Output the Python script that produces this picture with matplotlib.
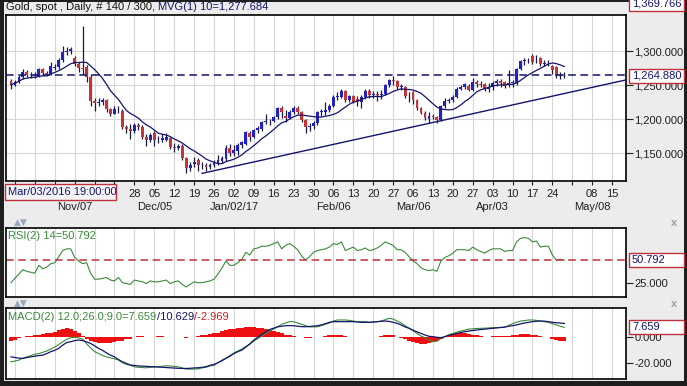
import numpy as np
import pandas as pd
import matplotlib
matplotlib.use("Agg")
import matplotlib.pyplot as plt
from matplotlib.patches import Rectangle
from matplotlib.transforms import blended_transform_factory

plt.rcParams['font.family'] = ['Liberation Sans', 'DejaVu Sans']

# daily bars, Oct 14 2016 .. Apr 27 2017 (140 bars)
dates = pd.bdate_range('2016-10-14', periods=140)

opens = [1257, 1251, 1255, 1262, 1270, 1265, 1266, 1264, 1274, 1268,
         1267, 1276, 1277, 1288, 1299, 1301, 1291, 1281, 1276, 1277,
         1262, 1227, 1224, 1226, 1228, 1215, 1208, 1214, 1212, 1188,
         1185, 1183, 1191, 1189, 1173, 1170, 1180, 1169, 1169, 1170,
         1172, 1159, 1158, 1160, 1142, 1128, 1134, 1140, 1132, 1132,
         1129, 1133, 1134, 1138, 1141, 1158, 1150, 1153, 1162, 1164,
         1180, 1174, 1184, 1186, 1196, 1197, 1198, 1203, 1216, 1204,
         1202, 1210, 1216, 1210, 1199, 1188, 1190, 1195, 1210, 1210,
         1214, 1220, 1233, 1233, 1241, 1228, 1234, 1230, 1225, 1233,
         1241, 1236, 1237, 1236, 1237, 1250, 1258, 1256, 1248, 1248,
         1234, 1240, 1228, 1216, 1209, 1200, 1205, 1203, 1199, 1220,
         1227, 1229, 1233, 1245, 1248, 1249, 1243, 1255, 1252, 1252,
         1244, 1247, 1253, 1256, 1255, 1250, 1254, 1254, 1274, 1286,
         1287, 1294, 1291, 1290, 1282, 1284, 1279, 1277, 1264, 1266]
highs = [1260, 1258, 1265, 1274, 1272, 1270, 1269, 1276, 1276, 1271,
         1285, 1281, 1291, 1308, 1307, 1307, 1294, 1285, 1338, 1280,
         1267, 1232, 1231, 1232, 1230, 1216, 1220, 1219, 1215, 1192,
         1193, 1195, 1194, 1191, 1178, 1180, 1182, 1175, 1178, 1180,
         1173, 1165, 1164, 1163, 1144, 1137, 1144, 1142, 1137, 1135,
         1136, 1139, 1147, 1145, 1162, 1163, 1162, 1165, 1168, 1183,
         1182, 1186, 1190, 1198, 1207, 1200, 1205, 1218, 1219, 1214,
         1213, 1220, 1220, 1212, 1200, 1194, 1198, 1212, 1215, 1226,
         1222, 1236, 1240, 1244, 1243, 1236, 1236, 1234, 1236, 1245,
         1244, 1241, 1241, 1243, 1252, 1260, 1264, 1258, 1252, 1249,
         1240, 1242, 1230, 1218, 1212, 1210, 1208, 1205, 1221, 1232,
         1232, 1236, 1248, 1251, 1254, 1252, 1261, 1258, 1256, 1254,
         1254, 1256, 1259, 1260, 1257, 1273, 1258, 1276, 1288, 1290,
         1291, 1296, 1295, 1292, 1287, 1288, 1280, 1279, 1269, 1269]
lows = [1245, 1249, 1253, 1260, 1262, 1261, 1261, 1262, 1266, 1264,
        1265, 1272, 1274, 1285, 1295, 1296, 1278, 1270, 1266, 1255,
        1220, 1212, 1220, 1221, 1211, 1205, 1207, 1209, 1185, 1180,
        1171, 1180, 1184, 1171, 1161, 1166, 1160, 1165, 1166, 1168,
        1156, 1152, 1155, 1140, 1121, 1124, 1130, 1124, 1127, 1124,
        1127, 1130, 1132, 1135, 1138, 1145, 1146, 1147, 1158, 1162,
        1168, 1172, 1180, 1182, 1193, 1191, 1196, 1201, 1202, 1196,
        1200, 1208, 1208, 1196, 1180, 1182, 1186, 1192, 1205, 1206,
        1210, 1218, 1229, 1231, 1225, 1225, 1224, 1220, 1216, 1230,
        1232, 1232, 1227, 1230, 1235, 1248, 1250, 1244, 1243, 1232,
        1225, 1222, 1213, 1207, 1199, 1195, 1200, 1195, 1197, 1217,
        1224, 1226, 1231, 1243, 1244, 1241, 1242, 1248, 1247, 1241,
        1240, 1243, 1249, 1247, 1246, 1247, 1248, 1251, 1272, 1280,
        1283, 1281, 1283, 1278, 1278, 1279, 1267, 1261, 1260, 1261]
closes = [1251, 1255, 1262, 1270, 1265, 1266, 1264, 1274, 1268, 1267,
          1278, 1277, 1288, 1299, 1301, 1303, 1281, 1275, 1274, 1262,
          1227, 1224, 1226, 1228, 1215, 1208, 1215, 1213, 1188, 1185,
          1183, 1192, 1189, 1173, 1170, 1176, 1169, 1169, 1172, 1174,
          1159, 1158, 1160, 1142, 1128, 1133, 1137, 1132, 1132, 1130,
          1133, 1136, 1140, 1142, 1158, 1150, 1155, 1162, 1166, 1181,
          1173, 1184, 1187, 1196, 1197, 1198, 1203, 1216, 1211, 1202,
          1210, 1216, 1210, 1199, 1188, 1190, 1195, 1210, 1212, 1214,
          1220, 1233, 1234, 1241, 1228, 1234, 1226, 1225, 1233, 1241,
          1236, 1237, 1236, 1237, 1250, 1258, 1256, 1248, 1249, 1234,
          1234, 1228, 1216, 1209, 1202, 1205, 1203, 1199, 1220, 1227,
          1229, 1233, 1245, 1248, 1252, 1243, 1255, 1252, 1250, 1244,
          1248, 1253, 1256, 1254, 1249, 1254, 1255, 1274, 1286, 1287,
          1288, 1285, 1290, 1282, 1283, 1284, 1272, 1264, 1266, 1264.88]

rsi = [25, 30, 35, 40, 38, 37, 36, 45, 41, 43,
       47, 48, 55, 62, 64, 64, 54, 50, 47, 48,
       36, 29, 29, 30, 31, 28, 27, 31, 25, 24,
       23, 28, 27, 26, 24, 27, 26, 26, 27, 28,
       24, 26, 27, 23, 20, 23, 26, 25, 25, 26,
       27, 29, 35, 42, 50, 45, 45, 48, 52, 60,
       57, 64, 65, 67, 67, 68, 70, 72, 64, 68,
       70, 67, 63, 56, 51, 55, 60, 62, 63, 64,
       66, 70, 69, 72, 62, 64, 66, 62, 63, 65,
       62, 63, 65, 68, 72, 70, 68, 63, 63, 60,
       55, 50, 47, 42, 40, 39, 40, 38, 50, 54,
       56, 59, 63, 63, 63, 62, 66, 63, 61, 59,
       62, 64, 64, 64, 61, 62, 62, 72, 76, 77,
       76, 72, 73, 66, 67, 67, 57, 51, 52, 50.792]

macd = [-18.8, -18.2, -17.5, -16, -15, -14, -13, -12.5, -11.5, -10.5,
        -9, -7.5, -5.5, -3.5, -1.5, -0.3, 0, -0.5, -1.3, -5,
        -8, -11, -12.4, -14, -15, -15.8, -16.5, -17.5, -19.5, -20.8,
        -21.5, -22.6, -23, -23.2, -23.4, -23, -22.8, -22.6, -22.2, -21.9,
        -22, -22.3, -22.6, -23.5, -24.4, -24.4, -24.4, -24.2, -23.5, -23,
        -22, -21.5, -19.5, -17.5, -16, -14, -12, -10.5, -9, -7,
        -5.4, -3, -1, 1, 3, 4.5, 6.5, 8, 10, 11,
        12, 12, 11, 10, 9, 8, 8, 8.1, 9, 10,
        11, 12.5, 13.3, 13.3, 13.3, 13, 12.5, 12, 12, 12,
        11.5, 11.5, 12, 12.5, 13.5, 14.6, 14, 12.5, 11, 9,
        7, 5, 3, 1, -0.3, -2, -3.4, -3, -1, 0.5,
        2, 3, 4, 4.8, 5.5, 6.3, 6.5, 6.8, 6.9, 7,
        7.2, 7.4, 7.5, 7.6, 7.8, 9, 10.5, 11.5, 12.5, 12.8,
        13.3, 13.3, 13, 12.5, 12, 11.5, 10.5, 9.5, 8.5, 7.659]
signal = [-15, -15.5, -16, -16.2, -15.5, -15, -14.5, -14, -13.7, -12.5,
          -11, -10, -8.5, -6, -4, -3.4, -2.5, -2.1, -2.5, -3.5,
          -4.7, -6.5, -8.5, -10, -12, -13.7, -15, -17, -18.8, -20,
          -21.3, -21.6, -22, -22.1, -22.3, -22.5, -22.6, -22.8, -23, -23.2,
          -23.4, -23.6, -23.8, -23.9, -23.9, -23.8, -23.5, -23.4, -23, -22.5,
          -21.5, -20.8, -19.5, -18, -16.2, -14.5, -12.5, -11, -9.8, -7.5,
          -5, -2.1, 0, 2, 4.3, 6, 7, 8.1, 8.5, 8.9,
          9, 8.9, 8.5, 8.2, 8.1, 8.3, 8.6, 8.9, 9.5, 10.5,
          11.5, 12, 12, 12, 12, 12, 12, 11.8, 11.5, 11.5,
          11.5, 11.8, 12, 12.3, 12.5, 12.2, 11.5, 10.7, 9.5, 8,
          6.9, 5.5, 4.2, 3, 1.8, 0.8, 0.5, 0, -0.3, 0.5,
          1.5, 2.2, 3, 3.7, 4.3, 4.8, 5.2, 5.6, 6, 6.3,
          6.6, 6.9, 7.2, 7.5, 7.8, 8.5, 8.9, 9.5, 10.3, 11,
          11.5, 12, 12.3, 12.5, 12.4, 12, 11.5, 11.2, 10.9, 10.629]
hist = [-2.5, -2, -0.5, 0.5, 1, 1, 1.5, 2, 2.5, 3,
        3, 4, 5.5, 6.5, 7, 6.5, 5, 3, 1, -1,
        -2.5, -3.5, -4, -4.5, -4.5, -4, -3.5, -3, -2.5, -1.5,
        -1, 0.5, 1, 1, 0.5, 0.5, 0.5, 1, 1, 0.5,
        0, 0.5, 0.5, 0, -0.5, 0, 0.5, 1, 1.5, 2,
        2.5, 3, 3.5, 4.5, 5.5, 6, 6.5, 7, 7.5, 8,
        8, 8, 7.5, 7, 6.5, 5.5, 5, 4, 3, 2,
        1.5, 1, 0.5, 0, -0.5, -0.5, 0, 0.5, 0.5, 1,
        1.5, 2, 2, 1.5, 1, 0.5, 0.5, 0, 0, 0.5,
        0.5, 0.5, 0.5, 1, 1.5, 2, 1.5, 0.5, -0.5, -1.5,
        -2.5, -3.5, -4.5, -5, -5, -4.5, -3.5, -2.5, -1, 0.5,
        1.5, 2.5, 3, 3, 3, 2.5, 2, 1.5, 1, 0.5,
        0.5, 1, 1, 1, 1, 1, 1.5, 2, 2.5, 2.5,
        2.5, 2, 1.5, 1, 0.5, 0, -1, -2, -2.5, -2.969]

last_price = 1264.88
trend_start = (48, 1120)      # (bar, price)
trend_end = (154.5, 1258)
rsi_last = 50.792

month_labels = {'2016-11-07': 'Nov/07', '2016-12-05': 'Dec/05', '2017-01-02': 'Jan/02/17',
                '2017-02-06': 'Feb/06', '2017-03-06': 'Mar/06', '2017-04-03': 'Apr/03',
                '2017-05-08': 'May/08'}

# ---------------------------------------------------------------------------
W, H = 687, 386
BLUE, RED, NAVY, GREEN = '#2222c0', '#c83434', '#14146e', '#3a8a3a'
BOXRED = '#c0303a'

all_days = pd.bdate_range('2016-10-14', periods=160)
pos = {d: i for i, d in enumerate(all_days)}
mondays = pd.date_range('2016-10-17', '2017-05-15', freq='W-MON')
week_pos = [pos[d] for d in mondays]
week_lab = [d.strftime('%d') if (d >= pd.Timestamp('2016-11-28') and d != pd.Timestamp('2017-05-01')) else ''
            for d in mondays]

def rect(x0, y0, x1, y1):
    return [x0 / W, 1 - y1 / H, (x1 - x0) / W, (y1 - y0) / H]

fig = plt.figure(figsize=(W / 100, H / 100), dpi=100, facecolor='#ececec')

# dark window frame
for r in [(0, 0, 4, H), (0, 0, W, 1.5), (0, 381, W, H), (684, 0, W, H)]:
    fig.patches.append(Rectangle((r[0] / W, 1 - r[3] / H), (r[2] - r[0]) / W, (r[3] - r[1]) / H,
                                 transform=fig.transFigure, fc='#1e1e1e', ec='none', zorder=-5))

ax = fig.add_axes(rect(6, 15, 626, 181))
ax_rsi = fig.add_axes(rect(6, 228, 626, 297))
ax_macd = fig.add_axes(rect(6, 308, 626, 379))

for a in (ax, ax_rsi, ax_macd):
    a.set_facecolor('white')
    a.set_xlim(-1.25, 154.5)
    for s in a.spines.values():
        s.set_linewidth(1.2)
        s.set_color('black')
    a.set_xticks(week_pos)
    a.grid(True, axis='x', color='#d6d6d6', lw=0.8)
    a.set_axisbelow(True)
    a.yaxis.tick_right()
    a.tick_params(axis='y', length=5, width=0.8, pad=1, labelsize=8, colors='#202020')

# --- price panel ---
idx = np.arange(len(closes))
o = np.array(opens, float)
c = np.array(closes, float)
up = c >= o
colors = np.where(up, BLUE, RED)
ax.vlines(idx, lows, highs, color='#1a1a3a', lw=0.9, zorder=2)
body = np.maximum(np.abs(c - o), 0.9)
ax.bar(idx, body, bottom=np.minimum(o, c), width=0.72, color=colors, lw=0, zorder=3)

ma = pd.Series(closes).rolling(10, min_periods=1).mean()
ax.plot(idx, ma, color=NAVY, lw=0.9, zorder=4)
ax.axhline(last_price, color=NAVY, lw=1.1, dashes=(5, 3), zorder=4)
ax.plot([trend_start[0], trend_end[0]], [trend_start[1], trend_end[1]], color=NAVY, lw=1.0, zorder=4)

ax.set_ylim(1108.7, 1353.9)
ax.set_yticks([1150, 1200, 1250, 1300])
ax.yaxis.set_major_formatter(matplotlib.ticker.StrMethodFormatter('{x:,.3f}'))
ax.grid(True, axis='y', color='#d6d6d6', lw=0.8)
ax.set_xticklabels(week_lab)
ax.tick_params(axis='x', length=3, width=0.8, pad=3, labelsize=8, colors='#202020')
tr = blended_transform_factory(ax.transData, ax.transAxes)
for d, lab in month_labels.items():
    ax.text(pos[pd.Timestamp(d)], -0.157, lab, transform=tr, ha='center', va='center',
            fontsize=8, color='#202020')

# --- RSI panel ---
ax_rsi.plot(idx, rsi, color=GREEN, lw=0.8)
ax_rsi.axhline(rsi_last, color=BOXRED, lw=1.1, dashes=(5, 3))
ax_rsi.set_ylim(8.5, 88)
ax_rsi.set_yticks([25])
ax_rsi.set_yticklabels(['25.000'])
ax_rsi.tick_params(axis='x', length=0, labelbottom=False)
ax_rsi.text(0.004, 0.95, 'RSI(2) 14=50.792', transform=ax_rsi.transAxes, color=GREEN,
            fontsize=8, va='top', ha='left')

# --- MACD panel ---
ax_macd.bar(idx, hist, width=1.0, color='#ee1010', lw=0, zorder=2)
ax_macd.plot(idx, macd, color=GREEN, lw=0.8, zorder=3)
ax_macd.plot(idx, signal, color=NAVY, lw=0.9, zorder=3)
ax_macd.set_ylim(-32, 22.5)
ax_macd.set_yticks([0, -20])
ax_macd.set_yticklabels(['0.000', '-20.000'])
ax_macd.tick_params(axis='x', length=0, labelbottom=False)
t1 = ax_macd.text(0.004, 0.95, 'MACD(2) 12.0;26.0;9.0=7.659', transform=ax_macd.transAxes,
                  color=GREEN, fontsize=8, va='top', ha='left')
t2 = ax_macd.annotate('/10.629', xy=(1, 0), xycoords=t1, color=NAVY, fontsize=8, va='bottom')
ax_macd.annotate('/-2.969', xy=(1, 0), xycoords=t2, color='#d02020', fontsize=8, va='bottom')

# --- header and value boxes ---
h1 = fig.text(6 / W, 1 - 7.5 / H, 'Gold, spot , Daily, # 140 / 300, ', fontsize=8,
              color='#111111', va='center', ha='left')
ax.annotate('MVG(1) 10=1,277.684', xy=(1, 0), xycoords=h1, color=NAVY, fontsize=8,
            va='bottom', annotation_clip=False)

def value_box(y, text):
    fig.patches.append(Rectangle((629 / W, 1 - (y + 7) / H), 55 / W, 14 / H,
                                 transform=fig.transFigure, fc='white', ec=BOXRED, lw=1, zorder=5))
    fig.text(632 / W, 1 - y / H, text, va='center', ha='left', fontsize=8, color=NAVY, zorder=6)

value_box(4, '1,369.766')
value_box(76, '1,264.880')
value_box(260, '50.792')
value_box(327, '7.659')

fig.patches.append(Rectangle((5 / W, 1 - 200 / H), 111 / W, 16 / H, transform=fig.transFigure,
                             fc='#f4f4f4', ec=BOXRED, lw=1, zorder=5))
fig.text(8 / W, 1 - 192 / H, 'Mar/03/2016 19:00:00', va='center', ha='left', fontsize=8,
         color=NAVY, zorder=6)

for y in (222, 303):
    fig.text(14 / W, 1 - y / H, '\u25b2\u25bc', fontsize=6.5, color='#9aa8bc', va='center',
             family='DejaVu Sans')
    fig.text(671 / W, 1 - (y + 1) / H, 'x', fontsize=8, color='#9aa0a8', va='center',
             fontweight='bold')

fig.savefig('out.png', dpi=100, facecolor=fig.get_facecolor())
